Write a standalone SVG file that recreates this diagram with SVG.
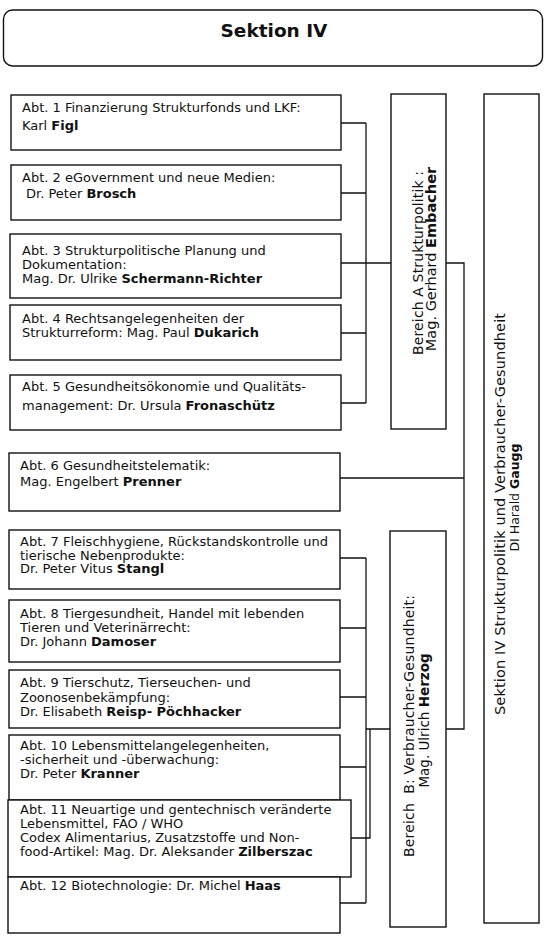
<svg xmlns="http://www.w3.org/2000/svg" width="546" height="938" viewBox="0 0 546 938">
<style>
  .box { fill: #fff; stroke: #111; stroke-width: 1.4; }
  .t { font-family: "DejaVu Sans", Verdana, sans-serif; font-size: 13px; fill: #111; }
  .v { font-family: "DejaVu Sans", Verdana, sans-serif; font-size: 14px; fill: #111; text-anchor: middle; }
  .b { font-weight: bold; }
  .title { font-family: "DejaVu Sans", Verdana, sans-serif; font-size: 18.5px; font-weight: bold; fill: #111; text-anchor: middle; }
  .c { fill: none; stroke: #111; stroke-width: 1.3; }
</style>
<rect width="546" height="938" fill="#fff"/>

<g id="connectors">
  <path class="c" d="M341 123 H366 M341 193 H366 M341 263 H391 M341 333 H366 M341 403 H366 M366 123 V403"/>
  <path class="c" d="M446 263 H464 V729 H446 M340 478 H464"/>
  <path class="c" d="M340 558 H366 M340 628 H366 M340 697 H366 M340 767 H366 M340 903 H366 M366 558 V903 M366 729 H390 M370 729 V838 H351"/>
</g>

<g id="sektion-title">
  <rect class="box" x="3.5" y="10" width="539" height="56" rx="9"/>
  <text class="title" x="274" y="37">Sektion IV</text>
</g>

<g id="abt1">
  <rect class="box" x="11" y="95" width="330" height="55"/>
  <text class="t" x="22" y="112">Abt. 1 Finanzierung Strukturfonds und LKF:</text>
  <text class="t" x="22" y="130">Karl <tspan class="b">Figl</tspan></text>
</g>
<g id="abt2">
  <rect class="box" x="11" y="165" width="330" height="55"/>
  <text class="t" x="22" y="182">Abt. 2 eGovernment und neue Medien:</text>
  <text class="t" x="26" y="198">Dr. Peter <tspan class="b">Brosch</tspan></text>
</g>
<g id="abt3">
  <rect class="box" x="10" y="234" width="331" height="64"/>
  <text class="t" x="22" y="255">Abt. 3 Strukturpolitische Planung und</text>
  <text class="t" x="22" y="269">Dokumentation:</text>
  <text class="t" x="22" y="283">Mag. Dr. Ulrike <tspan class="b">Schermann-Richter</tspan></text>
</g>
<g id="abt4">
  <rect class="box" x="10" y="305" width="331" height="55"/>
  <text class="t" x="22" y="323">Abt. 4 Rechtsangelegenheiten der</text>
  <text class="t" x="22" y="337">Strukturreform: Mag. Paul <tspan class="b">Dukarich</tspan></text>
</g>
<g id="abt5">
  <rect class="box" x="10" y="375" width="331" height="55"/>
  <text class="t" x="22" y="391">Abt. 5 Gesundheitsökonomie und Qualitäts-</text>
  <text class="t" x="22" y="410">management: Dr. Ursula <tspan class="b">Fronaschütz</tspan></text>
</g>
<g id="abt6">
  <rect class="box" x="9" y="453" width="331" height="58"/>
  <text class="t" x="20" y="469.5">Abt. 6 Gesundheitstelematik:</text>
  <text class="t" x="20" y="486">Mag. Engelbert <tspan class="b">Prenner</tspan></text>
</g>
<g id="abt7">
  <rect class="box" x="9" y="530" width="331" height="59"/>
  <text class="t" x="20" y="546">Abt. 7 Fleischhygiene, Rückstandskontrolle und</text>
  <text class="t" x="20" y="559.5">tierische Nebenprodukte:</text>
  <text class="t" x="20" y="573">Dr. Peter Vitus <tspan class="b">Stangl</tspan></text>
</g>
<g id="abt8">
  <rect class="box" x="9" y="600" width="331" height="62"/>
  <text class="t" x="20" y="618">Abt. 8 Tiergesundheit, Handel mit lebenden</text>
  <text class="t" x="20" y="632">Tieren und Veterinärrecht:</text>
  <text class="t" x="20" y="646">Dr. Johann <tspan class="b">Damoser</tspan></text>
</g>
<g id="abt9">
  <rect class="box" x="9" y="670" width="331" height="58"/>
  <text class="t" x="20" y="687">Abt. 9 Tierschutz, Tierseuchen- und</text>
  <text class="t" x="20" y="702">Zoonosenbekämpfung:</text>
  <text class="t" x="20" y="716">Dr. Elisabeth <tspan class="b">Reisp- Pöchhacker</tspan></text>
</g>
<g id="abt10">
  <rect class="box" x="9" y="735" width="331" height="65"/>
  <text class="t" x="20" y="750">Abt. 10 Lebensmittelangelegenheiten,</text>
  <text class="t" x="20" y="764">-sicherheit und -überwachung:</text>
  <text class="t" x="20" y="778">Dr. Peter <tspan class="b">Kranner</tspan></text>
</g>
<g id="abt11">
  <rect class="box" x="8" y="800" width="343" height="77"/>
  <text class="t" x="20" y="814">Abt. 11 Neuartige und gentechnisch veränderte</text>
  <text class="t" x="20" y="828">Lebensmittel, FAO / WHO</text>
  <text class="t" x="20" y="842">Codex Alimentarius, Zusatzstoffe und Non-</text>
  <text class="t" x="20" y="856">food-Artikel: Mag. Dr. Aleksander <tspan class="b">Zilberszac</tspan></text>
</g>
<g id="abt12">
  <rect class="box" x="8" y="877" width="332" height="56"/>
  <text class="t" x="20" y="890">Abt. 12 Biotechnologie: Dr. Michel <tspan class="b">Haas</tspan></text>
</g>

<g id="bereich-a">
  <rect class="box" x="391" y="94" width="55" height="335"/>
  <text class="v" transform="translate(423 263) rotate(-90)" textLength="184">Bereich A Strukturpolitik :</text>
  <text class="v" transform="translate(436 259) rotate(-90)" style="font-size:14.5px">Mag. Gerhard <tspan class="b">Embacher</tspan></text>
</g>
<g id="bereich-b">
  <rect class="box" x="390" y="531" width="56" height="396"/>
  <text class="v" transform="translate(414 726) rotate(-90)" textLength="262" xml:space="preserve">Bereich  B: Verbraucher-Gesundheit:</text>
  <text class="v" transform="translate(429 720.5) rotate(-90)" style="font-size:13.5px">Mag. Ulrich <tspan class="b">Herzog</tspan></text>
</g>
<g id="sektion">
  <rect class="box" x="484" y="94" width="55" height="829"/>
  <text class="v" transform="translate(505 514) rotate(-90)" style="font-size:14.5px" textLength="402">Sektion IV Strukturpolitik und Verbraucher-Gesundheit</text>
  <text class="v" transform="translate(519 497.5) rotate(-90)" style="font-size:12.5px">DI Harald <tspan class="b">Gaugg</tspan></text>
</g>
</svg>
